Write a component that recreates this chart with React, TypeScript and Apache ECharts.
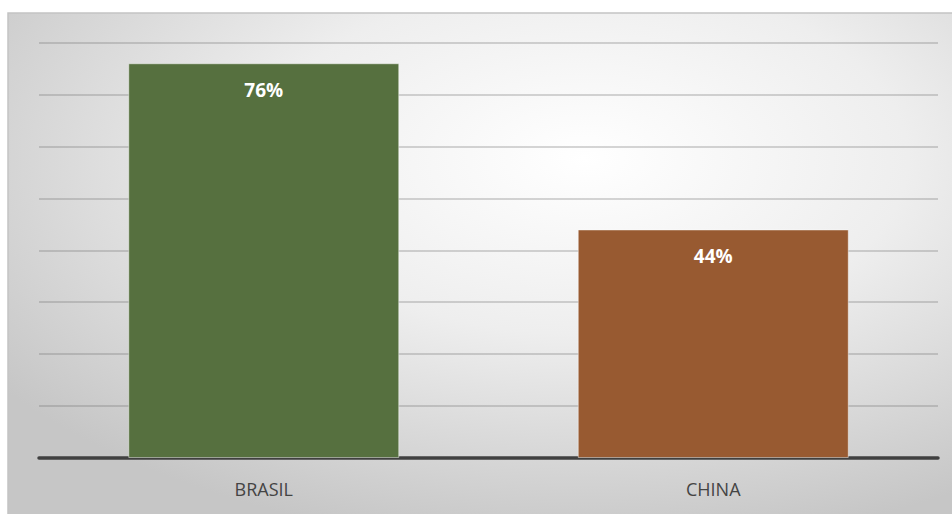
import React, { useEffect, useRef } from "react";
import * as echarts from "echarts";

const categories = ["BRASIL", "CHINA"];
const values = [76, 44];
const barColors = ["#56703F", "#985A31"];
const yTicks = [0, 10, 20, 30, 40, 50, 60, 70, 80];

export default function App() {
  const ref = useRef<HTMLDivElement>(null);
  useEffect(() => {
    if (!ref.current) return;
    const chart = echarts.init(ref.current, undefined, { renderer: "svg" });
    chart.setOption({
      animation: false,
      graphic: [
        {
          type: "rect",
          z: -10,
          silent: true,
          shape: { x: 8, y: 13, width: 960, height: 520 },
          style: {
            fill: new echarts.graphic.RadialGradient(0.6, 0.28, 0.75, [
              { offset: 0, color: "#ffffff" },
              { offset: 0.45, color: "#eeeeee" },
              { offset: 1, color: "#c6c6c6" },
            ]),
            stroke: "#c4c4c4",
            lineWidth: 1.5,
          },
        },
      ],
      grid: { left: 39, right: 14, top: 42.5, bottom: 56, containLabel: false },
      xAxis: {
        type: "category",
        data: categories,
        axisLine: { show: true, lineStyle: { color: "#404040", width: 3.5 } },
        axisTick: { show: false },
        axisLabel: {
          color: "#444444",
          fontSize: 18,
          fontFamily: "Open Sans",
          margin: 22,
        },
      },
      yAxis: {
        type: "value",
        min: yTicks[0],
        max: yTicks[yTicks.length - 1],
        interval: 10,
        axisLabel: { show: false },
        axisLine: { show: false },
        axisTick: { show: false },
        splitLine: { lineStyle: { color: "rgba(110,110,110,0.38)", width: 1.5 } },
      },
      series: [
        {
          type: "bar",
          barWidth: 271,
          data: values.map((v, i) => ({
            value: v,
            itemStyle: {
              color: barColors[i],
              borderColor: "rgba(255,255,255,0.45)",
              borderWidth: 1,
            },
          })),
          label: {
            show: true,
            position: "insideTop",
            distance: 17,
            formatter: "{c}%",
            color: "#ffffff",
            fontWeight: "bold",
            fontSize: 19,
            fontFamily: "Open Sans",
          },
        },
      ],
    });
    return () => chart.dispose();
  }, []);
  return (
    <div
      ref={ref}
      style={{ position: "absolute", left: 0, top: 0, width: 952, height: 514 }}
    />
  );
}
